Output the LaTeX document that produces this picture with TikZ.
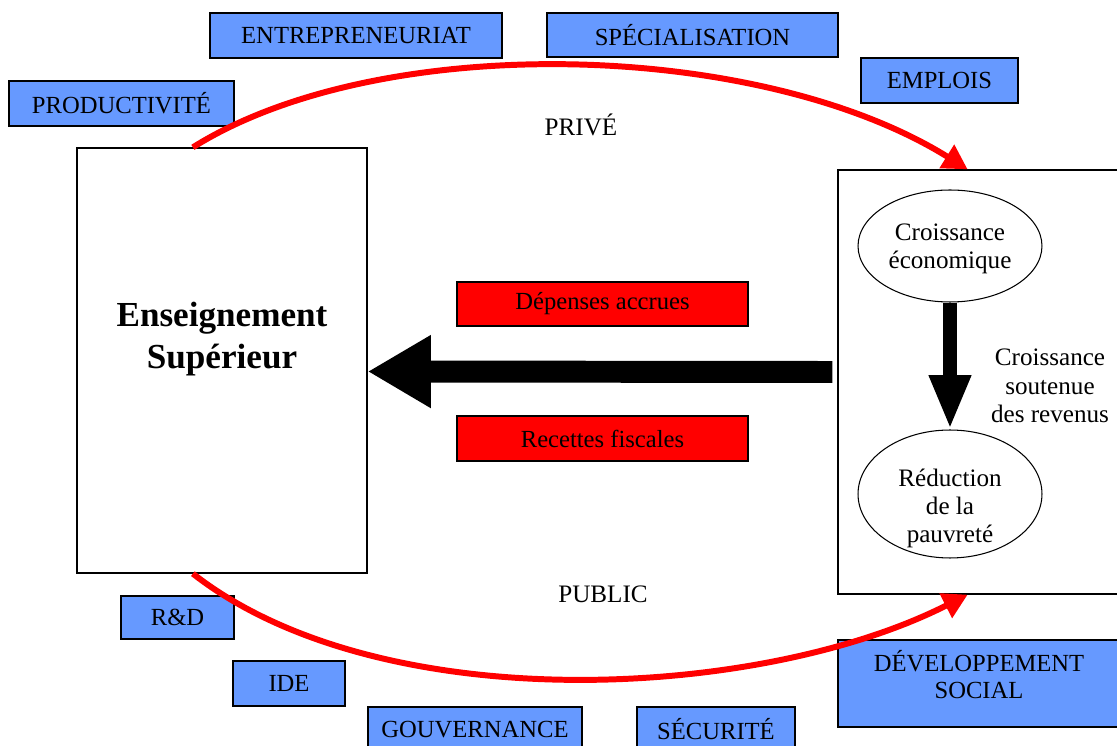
\documentclass[tikz,border=0pt]{standalone}
\usepackage{fontspec}
\setmainfont{Liberation Serif}
\usetikzlibrary{arrows.meta,calc,shapes.geometric}
\definecolor{boxblue}{RGB}{102,153,255}
\definecolor{boxred}{RGB}{255,0,0}
\begin{document}
\begin{tikzpicture}[x=0.02cm,y=-0.02cm,
  bluebox/.style={draw=black, line width=0.8pt, fill=boxblue, inner sep=0pt, align=center, font=\fontsize{14}{15.5}\selectfont},
  redbox/.style={draw=black, line width=0.8pt, fill=boxred, inner sep=0pt, align=center, font=\fontsize{14}{16}\selectfont},
  plainbox/.style={draw=black, line width=0.8pt, fill=white, inner sep=0pt, align=center},
  ovalnode/.style={ellipse, draw=black, line width=0.6pt, inner sep=0pt, align=center, font=\fontsize{14.3}{15.8}\selectfont},
  lbl/.style={inner sep=0pt, align=center, font=\fontsize{14.3}{16.3}\selectfont},
  redarrow/.style={draw=boxred, line width=3.4pt, -{Triangle[length=14pt,width=15pt]}},
  bigarrow/.style={draw=black, line width=12.5pt, -{Triangle[length=36pt,width=39pt]}},
  midarrow/.style={draw=black, line width=8pt, -{Triangle[length=31pt,width=22pt]}}
]
\useasboundingbox (0,0) rectangle (1117,746);
\clip (0,0) rectangle (1117,746);

% main boxes
\node[plainbox, minimum width=5.8cm, minimum height=8.5cm, font=\bfseries\fontsize{20}{24}\selectfont] (ens) at (222,360.5) {Enseignement\\Supérieur\rule[-1.0cm]{0pt}{0pt}};
\node[plainbox, minimum width=5.64cm, minimum height=8.48cm] (rb) at (979,382) {};

% ellipses
\node[ovalnode, minimum width=3.68cm, minimum height=2.24cm, inner ysep=-0.1cm] (e1) at (950,246) {\rule{0pt}{0.45cm}Croissance\\économique};
\node[ovalnode, minimum width=3.68cm, minimum height=2.56cm, inner ysep=-0.5cm] (e2) at (950,494) {\rule{0pt}{0.92cm}Réduction\\de la\\pauvreté};
\node[lbl] (soutenue) at (1050,386) {Croissance\\soutenue\\des revenus};

% red boxes
\node[redbox, minimum width=5.82cm, minimum height=0.88cm] (dep) at (602.5,304) {Dépenses accrues};
\node[redbox, minimum width=5.82cm, minimum height=0.9cm] (rec) at (602.5,438.5) {Recettes fiscales};

% blue boxes
\node[bluebox, minimum width=4.5cm, minimum height=0.9cm] (prod) at (121.5,103.5) {PRODUCTIVITÉ};
\node[bluebox, minimum width=5.84cm, minimum height=0.9cm] (entr) at (356,35.5) {ENTREPRENEURIAT};
\node[bluebox, minimum width=5.82cm, minimum height=0.88cm] (spec) at (692.5,35) {SPÉCIALISATION};
\node[bluebox, minimum width=3.14cm, minimum height=0.9cm] (empl) at (939.5,80.5) {EMPLOIS};
\node[bluebox, minimum width=2.26cm, minimum height=0.86cm] (rd) at (177.5,617.5) {R\&D};
\node[bluebox, minimum width=2.24cm, minimum height=0.9cm] (ide) at (289,683.5) {IDE};
\node[bluebox, minimum width=4.28cm, minimum height=0.9cm] (gouv) at (475,729.5) {GOUVERNANCE};
\node[bluebox, minimum width=5.64cm, minimum height=1.74cm] (dev) at (979,683.5) {DÉVELOPPEMENT\\SOCIAL\rule[-0.35cm]{0pt}{0pt}};
\node[bluebox, minimum width=3.16cm, minimum height=0.9cm] (secu) at (716,729.5) {SÉCURITÉ};

% labels
\node[lbl] (prive) at (581,125) {PRIVÉ};
\node[lbl] (public) at (603,594) {PUBLIC};

% red curved arrows
\draw[redarrow] ($(ens.north west)!0.4!(ens.north east)$) .. controls (380,30) and (760,40) .. ($(rb.north west)!0.46!(rb.north east)$);
\draw[redarrow] ($(ens.south west)!0.4!(ens.south east)$) .. controls (380,720) and (760,700) .. ($(rb.south west)!0.46!(rb.south east)$);

% black arrows
\draw[bigarrow] ($(rb.west)+(-5,-10)$) -- ($(ens.east)+(0,11)$);
\draw[midarrow] (e1.south) -- (e2.north);
\end{tikzpicture}
\end{document}
